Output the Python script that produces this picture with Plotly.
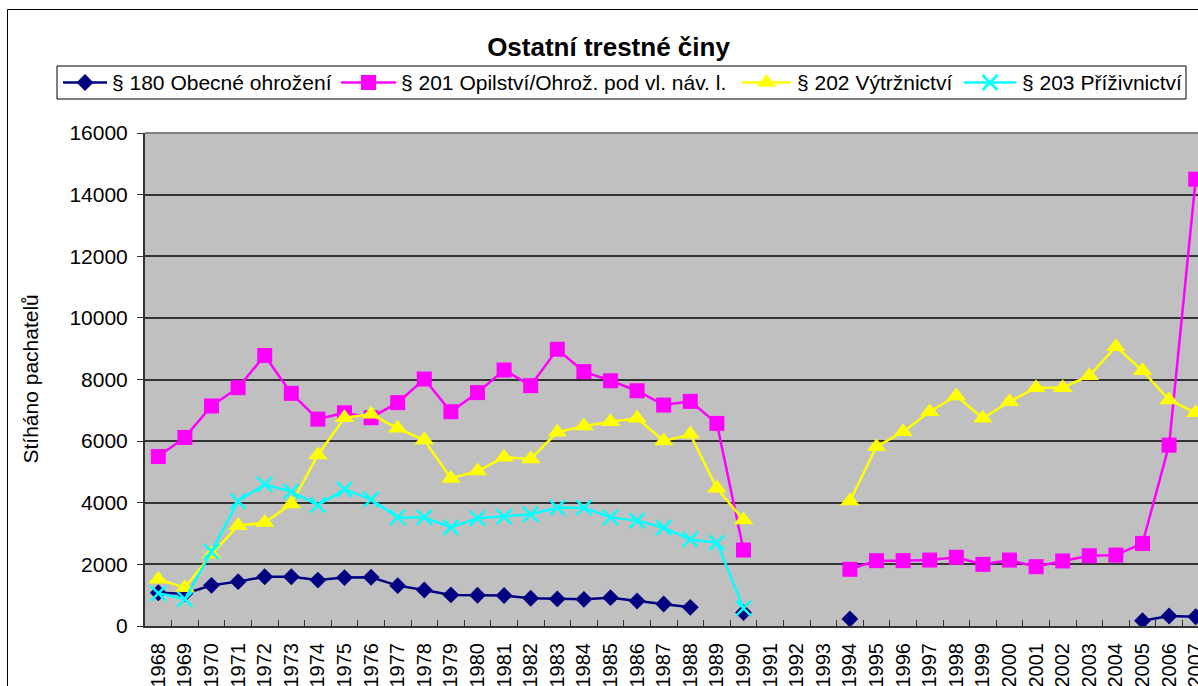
import plotly.graph_objects as go

years = [str(y) for y in range(1968, 2008)]

s180 = [1080, 1050, 1320, 1440, 1600, 1600, 1490, 1570, 1580, 1310, 1170, 1010,
        1000, 990, 900, 880, 865, 920, 810, 715, 606, None, 440, None, None, None,
        230, None, None, None, None, None, None, None, None, None, None, 170, 324, 300]
s201 = [5500, 6120, 7140, 7735, 8780, 7550, 6715, 6920, 6760, 7250, 8015, 6955,
        7575, 8310, 7800, 8980, 8255, 7960, 7635, 7170, 7290, 6575, 2465, None, None, None,
        1840, 2120, 2120, 2140, 2230, 2000, 2140, 1925, 2110, 2280, 2300, 2680, 5870, 14500]
s202 = [1515, 1245, 2325, 3255, 3355, 3960, 5550, 6760, 6870, 6415, 6035, 4790,
        5030, 5475, 5420, 6285, 6490, 6630, 6740, 6005, 6220, 4470, 3440, None, None, None,
        4055, 5820, 6305, 6955, 7465, 6740, 7280, 7735, 7735, 8125, 9065, 8285, 7335, 6920]
s203 = [1060, 875, 2410, 4055, 4595, 4360, 3925, 4435, 4110, 3525, 3525, 3200,
        3495, 3550, 3625, 3840, 3840, 3525, 3420, 3190, 2810, 2705, 575, None, None, None,
        None, None, None, None, None, None, None, None, None, None, None, None, None, None]

names = ["§ 180 Obecné ohrožení", "§ 201 Opilství/Ohrož. pod vl. náv. l.",
         "§ 202 Výtržnictví", "§ 203 Příživnictví"]
colors = ["#000080", "#FF00FF", "#FFFF00", "#00FFFF"]
series = [s180, s201, s202, s203]

FONT = "Liberation Sans, Arial, sans-serif"
W, H = 1198, 686
PL, PT, PB = 145, 133, 626  # plot area edges in pixels
PR = W


def marker_for(i):
    if i == 0:
        return dict(symbol="diamond", size=13, color=colors[0])
    if i == 1:
        return dict(symbol="square", size=15, color=colors[1])
    if i == 2:
        return dict(symbol="triangle-up", size=17, color=colors[2])
    return dict(symbol="x-thin", size=15, color=colors[3], line=dict(width=2.5, color=colors[3]))


fig = go.Figure()
for i, s in enumerate(series):
    fig.add_trace(go.Scatter(x=years, y=s, mode="lines+markers", name=names[i],
                             line=dict(color=colors[i], width=2.5),
                             marker=marker_for(i), connectgaps=False, showlegend=False))

# manual legend, drawn on a full-figure pixel axis (x2/y2)
leg_line0 = [63, 341, 742, 964]
leg_line1 = [107, 396, 791, 1016]
leg_text = [110, 399, 795, 1020]
leg_y = 82.5

shapes = [
    # plot-area background
    dict(type="rect", xref="paper", yref="paper", x0=PL / W, x1=1, y0=1 - PB / H, y1=1 - PT / H,
         line=dict(width=0), fillcolor="#C0C0C0", layer="below"),
    # top border of plot area
    dict(type="line", xref="paper", yref="paper", x0=PL / W, x1=1, y0=1 - PT / H, y1=1 - PT / H,
         line=dict(color="#808080", width=2), layer="above"),
    # outer chart frame
    dict(type="rect", xref="x2", yref="y2", x0=7.5, x1=1400, y0=9.5, y1=900,
         line=dict(color="#000000", width=1), fillcolor="rgba(0,0,0,0)", layer="below"),
    # legend box
    dict(type="rect", xref="x2", yref="y2", x0=57, x1=1186, y0=66, y1=99,
         line=dict(color="#000000", width=1), fillcolor="#FFFFFF", layer="below"),
]
annotations = []
for i in range(4):
    shapes.append(dict(type="line", xref="x2", yref="y2", x0=leg_line0[i], x1=leg_line1[i],
                       y0=leg_y, y1=leg_y, line=dict(color=colors[i], width=2.5), layer="below"))
    annotations.append(dict(text=names[i], xref="x2", yref="y2", x=leg_text[i], y=leg_y,
                            xanchor="left", yanchor="middle", showarrow=False,
                            font=dict(family=FONT, size=21, color="#000000")))
    fig.add_trace(go.Scatter(x=[(leg_line0[i] + leg_line1[i]) / 2], y=[leg_y],
                             xaxis="x2", yaxis="y2", mode="markers", marker=marker_for(i),
                             cliponaxis=False, showlegend=False, hoverinfo="skip"))

annotations.append(dict(text="Stíháno pachatelů", xref="x2", yref="y2", x=30, y=(PT + PB) / 2,
                        textangle=-90, showarrow=False, xanchor="center", yanchor="middle",
                        font=dict(family=FONT, size=21, color="#000000")))

fig.update_layout(
    width=W, height=H, autosize=False,
    margin=dict(l=0, r=0, t=0, b=0, pad=0, autoexpand=False),
    paper_bgcolor="#FFFFFF", plot_bgcolor="rgba(0,0,0,0)",
    font=dict(family=FONT, size=21, color="#000000"),
    title=dict(text="<b>Ostatní trestné činy</b>", x=608.5 / W, xanchor="center", xref="container",
               y=1 - 47 / H, yanchor="middle", yref="container", automargin=False,
               font=dict(family=FONT, size=26, color="#000000")),
    showlegend=False,
    xaxis=dict(domain=[PL / W, 1], anchor="y", type="category", categoryorder="array", categoryarray=years,
               range=[-0.5, -0.5 + (PR - PL) / 26.6], showgrid=False, zeroline=False, automargin=False,
               showline=True, linecolor="#333333", linewidth=2,
               ticks="inside", ticklen=6, tickcolor="#333333", tickwidth=1, tickson="boundaries",
               tickangle=-90, tickfont=dict(family=FONT, size=20, color="#000000"),
               ticklabelstandoff=7),
    yaxis=dict(domain=[1 - PB / H, 1 - PT / H], anchor="x", automargin=False,
               range=[0, 16000], dtick=2000, tick0=0, tickformat="d",
               showgrid=True, gridcolor="#333333", gridwidth=1.5,
               zeroline=False, showline=True, linecolor="#333333", linewidth=2,
               ticks="outside", ticklen=6, tickcolor="#333333", tickwidth=1,
               tickfont=dict(family=FONT, size=21, color="#000000"), ticklabelstandoff=5),
    xaxis2=dict(domain=[0, 1], anchor="y2", range=[0, W], visible=False, fixedrange=True,
                showgrid=False, zeroline=False, automargin=False),
    yaxis2=dict(domain=[0, 1], anchor="x2", range=[H, 0], visible=False, fixedrange=True,
                showgrid=False, zeroline=False, automargin=False),
    shapes=shapes, annotations=annotations,
)

fig.write_html("out.html", config={"displayModeBar": False},
               post_script="document.body.style.margin='0px';document.body.style.overflow='hidden';")
